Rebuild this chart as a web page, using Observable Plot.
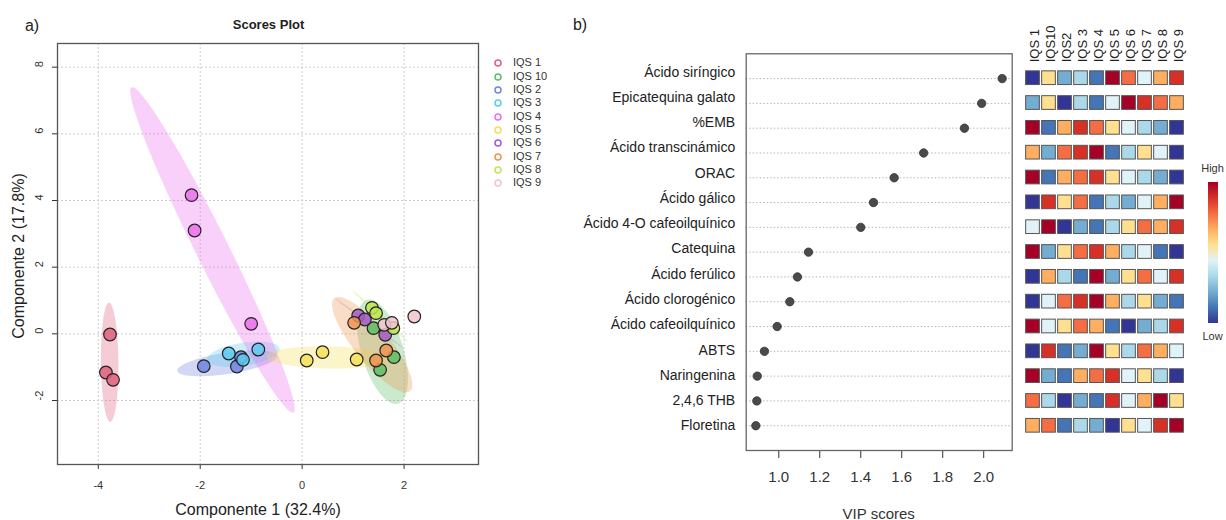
<!DOCTYPE html>
<html><head><meta charset="utf-8">
<script src="https://cdn.jsdelivr.net/npm/d3@7"></script>
<script src="https://cdn.jsdelivr.net/npm/@observablehq/plot@0.6"></script>
<style>
html,body{margin:0;padding:0;background:#fff;}
#wrap{position:relative;width:1226px;height:520px;overflow:hidden;font-family:"Liberation Sans",Arial,sans-serif;color:#222;}
.abs{position:absolute;white-space:nowrap;line-height:1;}
.c{transform:translate(-50%,-50%);}
.panel{position:absolute;top:0;}
</style></head><body><div id="wrap"></div>
<script>
// ---------- Panel a) PCA scores ----------
const groups = ["IQS 1","IQS 10","IQS 2","IQS 3","IQS 4","IQS 5","IQS 6","IQS 7","IQS 8","IQS 9"];
const groupColors = ["#E0607E","#5DBE63","#6F84E0","#5CCBF0","#EC6EEC","#F3E057","#A55CC4","#EF9450","#C0E650","#F2C4CC"];
const sampleGroup = ["IQS 1","IQS 1","IQS 1","IQS 10","IQS 10","IQS 10","IQS 2","IQS 2","IQS 2","IQS 3","IQS 3","IQS 3",
  "IQS 4","IQS 4","IQS 4","IQS 5","IQS 5","IQS 5","IQS 6","IQS 6","IQS 6","IQS 7","IQS 7","IQS 7","IQS 8","IQS 8","IQS 8","IQS 9","IQS 9","IQS 9"];
const pc1 = [-3.77,-3.85,-3.71, 1.53,1.80,1.40, -1.93,-1.28,-1.20, -1.44,-1.16,-0.86,
  -2.17,-2.11,-1.00, 0.09,0.40,1.07, 1.63,1.10,1.23, 1.45,1.65,1.02, 1.79,1.37,1.45, 1.61,1.76,2.20];
const pc2 = [-0.02,-1.16,-1.38, -1.08,-0.70,0.17, -0.97,-0.98,-0.70, -0.59,-0.78,-0.47,
  4.16,3.10,0.30, -0.80,-0.55,-0.77, -0.03,0.55,0.43, -0.80,-0.50,0.33, 0.17,0.78,0.62, 0.27,0.33,0.52];
const xTicksA = [-4,-2,0,2];
const yTicksA = [-2,0,2,4,6,8];

// ---------- Panel b) VIP scores ----------
const features = ["Ácido siríngico","Epicatequina galato","%EMB","Ácido transcinámico","ORAC","Ácido gálico",
  "Ácido 4-O cafeoilquínico","Catequina","Ácido ferúlico","Ácido clorogénico","Ácido cafeoilquínico","ABTS",
  "Naringenina","2,4,6 THB","Floretina"];
const vip = [2.09,1.99,1.906,1.707,1.563,1.462,1.40,1.145,1.091,1.054,0.992,0.93,0.895,0.893,0.888];
const vipTicks = [1.0,1.2,1.4,1.6,1.8,2.0];
const heatCols = ["IQS 1","IQS10","IQS2","IQS 3","IQS 4","IQS 5","IQS 6","IQS 7","IQS 8","IQS 9"];
const heatRanks = [
  [1,6,3,4,2,10,8,5,7,9],
  [3,6,1,4,2,5,10,9,8,7],
  [10,2,7,9,8,6,5,4,3,1],
  [7,3,8,9,10,2,4,6,5,1],
  [10,2,7,8,9,6,5,4,3,1],
  [1,9,6,8,2,4,3,5,7,10],
  [5,10,1,3,2,4,6,8,7,9],
  [10,3,6,8,9,7,4,5,2,1],
  [1,7,4,2,10,3,6,8,5,9],
  [1,5,8,9,10,7,4,6,3,2],
  [10,5,6,8,7,2,1,3,4,9],
  [1,9,2,3,10,6,4,8,7,5],
  [10,3,2,7,8,9,5,6,4,1],
  [8,4,1,3,2,9,5,7,10,6],
  [7,8,2,4,3,1,6,5,9,10]
];
const rankPalette = ["#313695","#4575b4","#74add1","#abd9e9","#e0f3f8","#fee090","#fdae61","#f46d43","#d73027","#a50026"];

const wrap = document.getElementById("wrap");
function addText(txt, x, y, style) {
  const d = document.createElement("div");
  d.className = "abs c";
  d.textContent = txt;
  d.style.left = x + "px"; d.style.top = y + "px";
  Object.assign(d.style, style || {});
  wrap.appendChild(d);
  return d;
}
function panel(node, left) {
  const d = document.createElement("div");
  d.className = "panel"; d.style.left = left + "px";
  d.appendChild(node); wrap.appendChild(d);
}

const samples = pc1.map((v, i) => ({x: v, y: pc2[i], group: sampleGroup[i]}));

// 95% confidence ellipses computed from each group's covariance
function ellipse(pts, t = Math.sqrt(-2 * Math.log(0.05)), n = 120) {
  const m = pts.length;
  const mx = d3.mean(pts, p => p.x), my = d3.mean(pts, p => p.y);
  let sxx = 0, syy = 0, sxy = 0;
  for (const p of pts) { sxx += (p.x - mx) ** 2; syy += (p.y - my) ** 2; sxy += (p.x - mx) * (p.y - my); }
  sxx /= (m - 1); syy /= (m - 1); sxy /= (m - 1);
  const a = Math.sqrt(sxx), b = sxy / a, c = Math.sqrt(Math.max(syy - b * b, 0));
  const out = [];
  for (let k = 0; k < n; k++) {
    const th = 2 * Math.PI * k / n, u = Math.cos(th), v = Math.sin(th);
    out.push({x: mx + t * a * u, y: my + t * (b * u + c * v)});
  }
  return out;
}
const ellipseMarks = groups.map((g, i) =>
  Plot.line(ellipse(samples.filter(s => s.group === g)), {
    x: "x", y: "y", curve: "linear-closed", fill: groupColors[i], fillOpacity: 0.32, stroke: "none"
  })
);

const left = Plot.plot({
  width: 560, height: 520,
  marginLeft: 57, marginRight: 82, marginTop: 43, marginBottom: 56,
  style: {fontFamily: "Liberation Sans, Arial, sans-serif", color: "#333", background: "transparent"},
  x: {domain: [-4.8, 3.46]},
  y: {domain: [-3.92, 8.71]},
  color: {domain: groups, range: groupColors},
  marks: [
    Plot.gridX(xTicksA, {stroke: "#cccccc", strokeOpacity: 1, strokeDasharray: "2,2"}),
    Plot.gridY(yTicksA, {stroke: "#cccccc", strokeOpacity: 1, strokeDasharray: "2,2"}),
    ...ellipseMarks,
    Plot.dot(samples, {x: "x", y: "y", fill: "group", fillOpacity: 0.85, r: 6.3, stroke: "#222", strokeWidth: 1.2}),
    Plot.axisX({ticks: xTicksA, tickSize: 5, tickPadding: 12, tickFormat: d => String(d), fontSize: 11, label: null}),
    Plot.axisY({ticks: yTicksA, tickSize: 5, tickFormat: () => "", label: null}),
    Plot.text(yTicksA, {y: d => d, frameAnchor: "left", dx: -18, rotate: -90, text: d => String(d), fontSize: 11, fill: "#333"}),
    Plot.frame({stroke: "#555", strokeWidth: 1.3})
  ]
});
panel(left, 0);

// legend for panel a
groups.forEach((g, i) => {
  const y = 63.3 + i * 13.33;
  const s = document.createElementNS("http://www.w3.org/2000/svg", "svg");
  s.setAttribute("width", 10); s.setAttribute("height", 10);
  s.style.position = "absolute"; s.style.left = (497.7 - 5) + "px"; s.style.top = (y - 5) + "px";
  s.innerHTML = `<circle cx="5" cy="5" r="3" fill="none" stroke="${groupColors[i]}" stroke-width="1.5"/>`;
  wrap.appendChild(s);
  const t = document.createElement("div");
  t.className = "abs"; t.textContent = g;
  Object.assign(t.style, {left: "513px", top: (y - 6) + "px", fontSize: "11px", color: "#333"});
  wrap.appendChild(t);
});

addText("a)", 32, 26, {fontSize: "16px", color: "#222"});
addText("Scores Plot", 268.5, 24, {fontSize: "13px", fontWeight: "bold", color: "#222"});
addText("Componente 1 (32.4%)", 258, 510, {fontSize: "16px", color: "#222"});
addText("Componente 2 (17.8%)", 19, 256, {fontSize: "16px", color: "#222", transform: "translate(-50%,-50%) rotate(-90deg)"});

// ---------- right panel dot plot ----------
const vipData = features.map((f, i) => ({feature: f, vip: vip[i]}));
const dotplot = Plot.plot({
  width: 455, height: 520,
  marginLeft: 185.7, marginRight: 3.3, marginTop: 53.3, marginBottom: 70,
  style: {fontFamily: "Liberation Sans, Arial, sans-serif", color: "#333", background: "transparent"},
  x: {domain: [0.841, 2.139]},
  y: {type: "point", domain: features, padding: 1, round: false, axis: null},
  marks: [
    Plot.gridY({stroke: "#b5b5b5", strokeOpacity: 1, strokeDasharray: "1.5,2"}),
    Plot.dot(vipData, {x: "vip", y: "feature", r: 4.2, fill: "#4a4a4a", stroke: "#333", strokeWidth: 0.8}),
    Plot.axisX({ticks: vipTicks, tickSize: 8, tickPadding: 13, tickFormat: d3.format(".1f"), fontSize: 15, label: null, fill: "#333"}),
    Plot.frame({stroke: "#666", strokeWidth: 1.3})
  ]
});
panel(dotplot, 560);

// row labels of the dot chart (own evenly spaced axis, as in the original)
const labels = Plot.plot({
  width: 185, height: 520,
  marginLeft: 0, marginRight: 0, marginTop: 0, marginBottom: 0,
  style: {fontFamily: "Liberation Sans, Arial, sans-serif", color: "#222", background: "transparent"},
  y: {type: "point", domain: features, range: [71.7, 425.3], padding: 0, round: false, axis: null},
  marks: [
    Plot.text(features, {y: d => d, frameAnchor: "right", dx: -10.3, textAnchor: "end", fontSize: 14, fill: "#222"})
  ]
});
panel(labels, 560);

// heatmap
const heatData = [];
features.forEach((f, r) => heatCols.forEach((c, j) => heatData.push({feature: f, col: c, rank: heatRanks[r][j]})));
const heat = Plot.plot({
  width: 211, height: 520,
  marginLeft: 0, marginRight: 0, marginTop: 53.3, marginBottom: 70,
  style: {fontFamily: "Liberation Sans, Arial, sans-serif", color: "#222", background: "transparent"},
  x: {type: "band", domain: heatCols, range: [9.5, 169.5], paddingInner: 0.144, paddingOuter: 0.072, round: false, axis: null},
  y: {type: "band", domain: features, range: [65.28, 437.72], paddingInner: 0.448, paddingOuter: 0.224, round: false, axis: null},
  color: {type: "ordinal", domain: d3.range(1, 11), range: rankPalette},
  marks: [
    Plot.cell(heatData, {x: "col", y: "feature", fill: "rank", stroke: "#555", strokeWidth: 1}),
    Plot.text(heatCols, {x: d => d, frameAnchor: "top", dy: 8.5, dx: 1.5, rotate: -90, textAnchor: "start", lineAnchor: "middle", fontSize: 13, fill: "#222"})
  ]
});
panel(heat, 1015);

// colour key
const bar = document.createElement("div");
Object.assign(bar.style, {position: "absolute", left: "1207.5px", top: "181.7px", width: "10px", height: "141px",
  background: "linear-gradient(to top," + rankPalette.join(",") + ")"});
wrap.appendChild(bar);
addText("High", 1212.5, 167.5, {fontSize: "11px", color: "#333"});
addText("Low", 1212.5, 335.5, {fontSize: "11px", color: "#333"});

addText("b)", 580, 25, {fontSize: "16px", color: "#222"});
addText("VIP scores", 878.7, 513, {fontSize: "15px", color: "#333"});
</script>
</body></html>
